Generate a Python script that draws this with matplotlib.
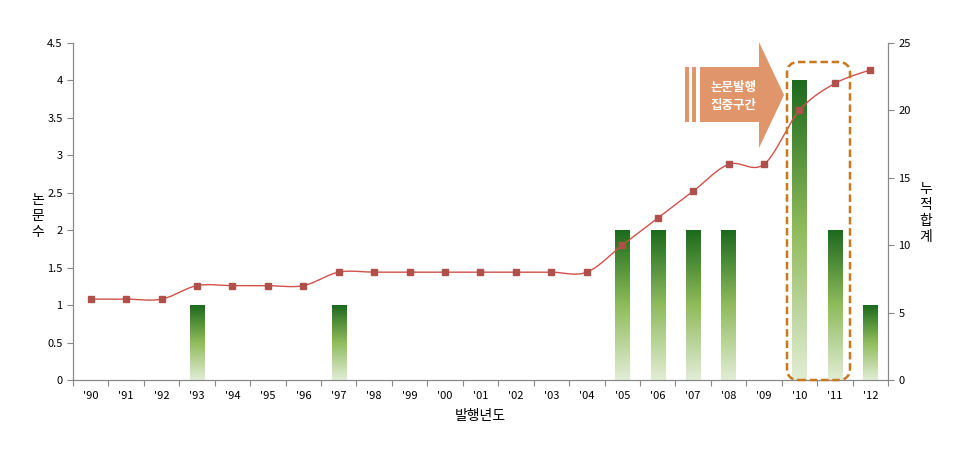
import numpy as np
import matplotlib.pyplot as plt
from matplotlib.patches import Rectangle, FancyBboxPatch, Polygon
from matplotlib.colors import LinearSegmentedColormap

plt.rcParams['font.family'] = ['Noto Sans CJK KR', 'DejaVu Sans']

# 데이터
years = ["'90", "'91", "'92", "'93", "'94", "'95", "'96", "'97", "'98", "'99", "'00", "'01",
         "'02", "'03", "'04", "'05", "'06", "'07", "'08", "'09", "'10", "'11", "'12"]
papers = [0, 0, 0, 1, 0, 0, 0, 1, 0, 0, 0, 0, 0, 0, 0, 2, 2, 2, 2, 0, 4, 2, 1]
cumulative = [6, 6, 6, 7, 7, 7, 7, 8, 8, 8, 8, 8, 8, 8, 8, 10, 12, 14, 16, 16, 20, 22, 23]

x = np.arange(len(years))

fig = plt.figure(figsize=(9.65, 4.49), dpi=100)
ax = fig.add_axes([73/965, 69/449, 815/965, 337/449])
ax2 = ax.twinx()

# 그라데이션 막대
cmap = LinearSegmentedColormap.from_list('g', ['#e2edd5', '#8fbb5c', '#1c6a1c'])
grad = np.linspace(0, 1, 256).reshape(-1, 1)
bw = 0.4
for xi, v in zip(x, papers):
    if v <= 0:
        continue
    im = ax.imshow(grad, cmap=cmap, aspect='auto', origin='lower',
                   extent=[xi - bw/2, xi + bw/2, 0, v], zorder=2)
    clip = Rectangle((xi - bw/2, 0), bw, v, transform=ax.transData)
    im.set_clip_path(clip)
ax.set_xlim(-0.5, len(years) - 0.5)
ax.set_ylim(0, 4.5)
ax2.set_ylim(0, 25)

# 누적 합계 곡선 (Catmull-Rom 평활)
pts = np.column_stack([x, cumulative]).astype(float)
ext = np.vstack([pts[0], pts, pts[-1]])
cx, cy = [], []
for i in range(1, len(ext) - 2):
    p0, p1, p2, p3 = ext[i-1], ext[i], ext[i+1], ext[i+2]
    t = np.linspace(0, 1, 20)[:, None]
    c = 0.5 * ((2*p1) + (-p0 + p2)*t + (2*p0 - 5*p1 + 4*p2 - p3)*t**2 + (-p0 + 3*p1 - 3*p2 + p3)*t**3)
    cx.extend(c[:, 0]); cy.extend(c[:, 1])
ax2.plot(cx, cy, color='#d0504a', lw=1.0, zorder=3)
ax2.plot(x, cumulative, ls='none', marker='s', ms=4, color='#b0504a', zorder=4)

# 축 스타일
for a in (ax, ax2):
    a.spines['top'].set_visible(False)
    for s in ('left', 'right', 'bottom'):
        a.spines[s].set_color('#888888')
ax.set_yticks(np.arange(0, 4.51, 0.5))
ax.set_yticklabels(['0', '0.5', '1', '1.5', '2', '2.5', '3', '3.5', '4', '4.5'])
ax2.set_yticks(np.arange(0, 26, 5))
ax.set_xticks(np.arange(-0.5, len(years), 1))
ax.set_xticklabels([])
ax.set_xticks(x, minor=True)
ax.set_xticklabels(years, minor=True)
ax.tick_params(axis='x', which='minor', length=0, pad=8, labelsize=8)
ax.tick_params(axis='x', which='major', length=4, color='#888888')
ax.tick_params(axis='y', length=4, color='#888888', labelsize=8)
ax2.tick_params(axis='y', length=4, color='#888888', labelsize=8)

fig.text(38/965, 1 - 216/449, '논\n문\n수', fontsize=10, ha='center', va='center', linespacing=1.2)
fig.text(926/965, 1 - 213/449, '누\n적\n합\n계', fontsize=10, ha='center', va='center', linespacing=1.2)
ax.set_xlabel('발행년도', fontsize=10, labelpad=6)

# 강조 영역 (점선 상자)
box = FancyBboxPatch((787/965, 69/449), 63/965, 318/449,
                     boxstyle='round,pad=0,rounding_size=0.012',
                     transform=fig.transFigure, fill=False, ec='#c8781e', lw=1.8,
                     ls=(0, (3, 1.5)), zorder=5, mutation_aspect=965/449)
fig.patches.append(box)

# 화살표
ac = '#e0956a'
def fx(px):
    return px / 965
def fy(py):
    return 1 - py / 449
arrow = Polygon([(fx(700), fy(67)), (fx(759), fy(67)), (fx(759), fy(42)), (fx(784), fy(95)),
                 (fx(759), fy(148)), (fx(759), fy(122)), (fx(700), fy(122))],
                closed=True, transform=fig.transFigure, fc=ac, ec='none')
fig.patches.append(arrow)
for x0 in (685, 692):
    fig.patches.append(Rectangle((fx(x0), fy(122)), 4/965, 55/449,
                                 transform=fig.transFigure, fc=ac, ec='none'))
fig.text(fx(733), fy(96), '논문발행\n집중구간', color='white', fontsize=9, fontweight='bold',
         ha='center', va='center', linespacing=1.5)

fig.savefig('out.png', dpi=100)
